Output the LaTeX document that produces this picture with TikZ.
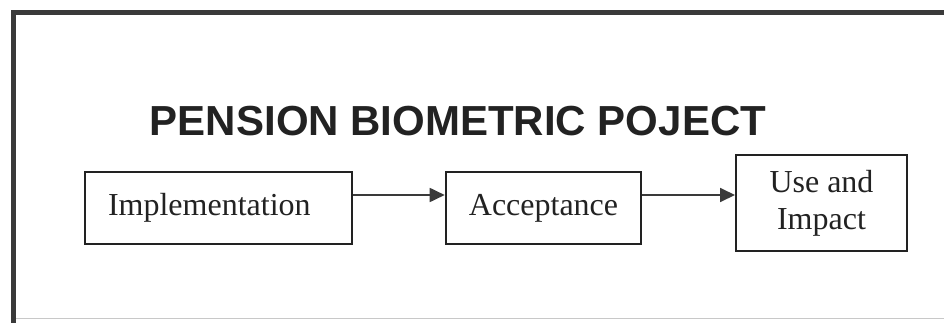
\documentclass[tikz,border=0pt]{standalone}
\usepackage{fontspec}
\setmainfont{Liberation Serif}
\newfontfamily\titlefont{Liberation Sans}
\usetikzlibrary{arrows.meta}
\definecolor{framegray}{HTML}{3A3A3A}
\definecolor{inkgray}{HTML}{222222}
\definecolor{rulegray}{HTML}{C8C8C8}
\tikzset{
  stagebox/.style={draw=inkgray, line width=2.6pt, rectangle, inner sep=0pt,
    font=\fontsize{32}{37}\selectfont, text=inkgray},
  flowarrow/.style={draw=framegray, line width=1.8pt,
    -{Triangle[length=15pt,width=14pt]}},
}
\begin{document}
\begin{tikzpicture}[x=1pt,y=1pt]
\useasboundingbox (0,0) rectangle (944,322);
\fill[white] (0,0) rectangle (944,322);
% outer frame
\draw[framegray, line width=5.5pt] (13.5,-5) -- (13.5,309.5) -- (950,309.5);
\draw[rulegray, line width=1pt] (16,4) -- (944,4);
% title
\node[anchor=base, font=\titlefont\bfseries\fontsize{42}{48}\selectfont, text=inkgray]
  (title) at (458,187) {PENSION BIOMETRIC POJECT};
% boxes
\node[stagebox, minimum width=267pt, minimum height=72pt, text width=221pt, align=left]
  (impl) at (218.5,114) {Implementation};
\node[stagebox, minimum width=195pt, minimum height=72pt, align=center]
  (acc) at (543.5,114) {Acceptance};
\node[stagebox, line width=2pt, minimum width=171pt, minimum height=96pt, align=center]
  (use) at (821.5,119) {Use and\\Impact};
% arrows
\draw[flowarrow] (impl.east |- 0,127) -- (acc.west |- 0,127);
\draw[flowarrow] (acc.east |- 0,127) -- (use.west |- 0,127);
\end{tikzpicture}
\end{document}
